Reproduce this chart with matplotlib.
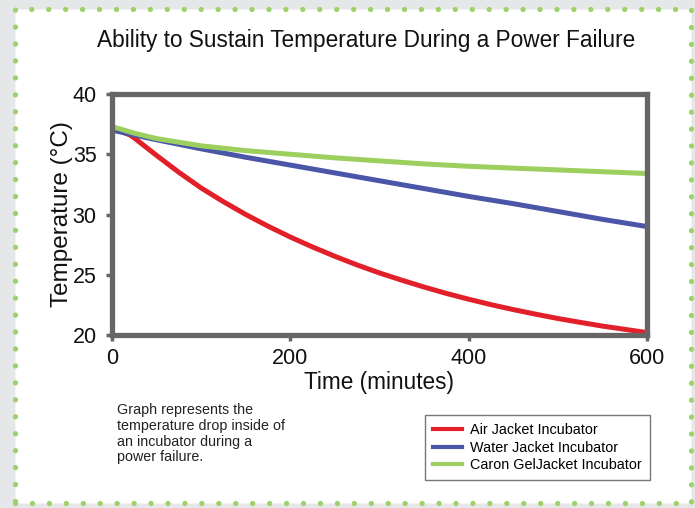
import matplotlib
matplotlib.use('Agg')
import matplotlib.pyplot as plt
from matplotlib.patches import Rectangle

plt.rcParams['font.family'] = ['Liberation Sans', 'DejaVu Sans']

# values (minutes, deg C)
time_air = [0, 10, 20, 25, 50, 75, 100, 125, 150, 175, 200, 225, 250, 275, 300,
            325, 350, 375, 400, 425, 450, 475, 500, 525, 550, 575, 600]
air_jacket = [37.1, 36.9, 36.6, 36.35, 34.9, 33.5, 32.2, 31.06, 30.0, 29.03, 28.13, 27.3,
              26.53, 25.81, 25.15, 24.55, 23.98, 23.45, 22.97, 22.52, 22.11, 21.73, 21.37,
              21.05, 20.74, 20.47, 20.2]

time_min = [0, 25, 50, 100, 150, 200, 250, 300, 350, 400, 450, 500, 550, 600]
water_jacket = [37.0, 36.6, 36.2, 35.45, 34.75, 34.1, 33.45, 32.8, 32.15, 31.5, 30.9, 30.25, 29.6, 29.0]
gel_jacket = [37.3, 36.75, 36.3, 35.7, 35.3, 35.0, 34.7, 34.45, 34.2, 34.0, 33.85, 33.7, 33.55, 33.4]

series_names = ['Air Jacket Incubator', 'Water Jacket Incubator', 'Caron GelJacket Incubator']
series_colors = ['#e2202a', '#4b56a9', '#9dcf5f']

x_ticks = [0, 200, 400, 600]
y_ticks = [20, 25, 30, 35, 40]

W, H = 695, 508
fig = plt.figure(figsize=(W / 100, H / 100), dpi=100, facecolor='#e6e7e8')

# white panel with dotted green border
panel = Rectangle((15 / W, 1 - 503 / H), 676 / W, 494 / H, transform=fig.transFigure,
                  facecolor='white', edgecolor='#9dd16a', linewidth=3.8,
                  linestyle=(0, (0.01, 3.2)), zorder=-5)
panel.set_capstyle('round')
fig.patches.append(panel)

ax = fig.add_axes([112 / W, 1 - 335 / H, 535 / W, 241 / H])
ax.set_facecolor('white')

ax.plot(time_air, air_jacket, color=series_colors[0], linewidth=3.6, label=series_names[0])
ax.plot(time_min, water_jacket, color=series_colors[1], linewidth=3.6, label=series_names[1])
ax.plot(time_min, gel_jacket, color=series_colors[2], linewidth=3.6, label=series_names[2])

ax.set_xlim(0, 600)
ax.set_ylim(20, 40)
ax.set_xticks(x_ticks)
ax.set_yticks(y_ticks)

for sp in ax.spines.values():
    sp.set_color('#666666')
    sp.set_linewidth(3.8)

ax.tick_params(direction='out', length=4, width=2.5, color='#666666',
               labelsize=15.5, labelcolor='#111111')
ax.tick_params(axis='y', pad=7)
ax.tick_params(axis='x', pad=5)

ax.set_xlabel('Time (minutes)', fontsize=16.3, color='#111111', labelpad=2)
ax.set_ylabel('Temperature (\u00b0C)', fontsize=17.5, color='#111111', labelpad=0)

fig.text(366 / W, 1 - 40 / H, 'Ability to Sustain Temperature During a Power Failure',
         ha='center', va='center', fontsize=16.3, color='#111111')

fig.text(117 / W, 1 - 403 / H,
         'Graph represents the\ntemperature drop inside of\nan incubator during a\npower failure.',
         ha='left', va='top', fontsize=10.3, color='#222222', linespacing=1.16)

leg = fig.legend(loc='upper left', bbox_to_anchor=(425 / W, 1 - 415 / H),
                 borderaxespad=0, fontsize=10.4, frameon=True, fancybox=False,
                 handlelength=2.0, handletextpad=0.6, borderpad=0.55, labelspacing=0.25)
leg.get_frame().set_edgecolor('#555555')
leg.get_frame().set_linewidth(1.0)
for ln in leg.get_lines():
    ln.set_linewidth(3.0)

fig.savefig('out.png', dpi=100, facecolor=fig.get_facecolor())
